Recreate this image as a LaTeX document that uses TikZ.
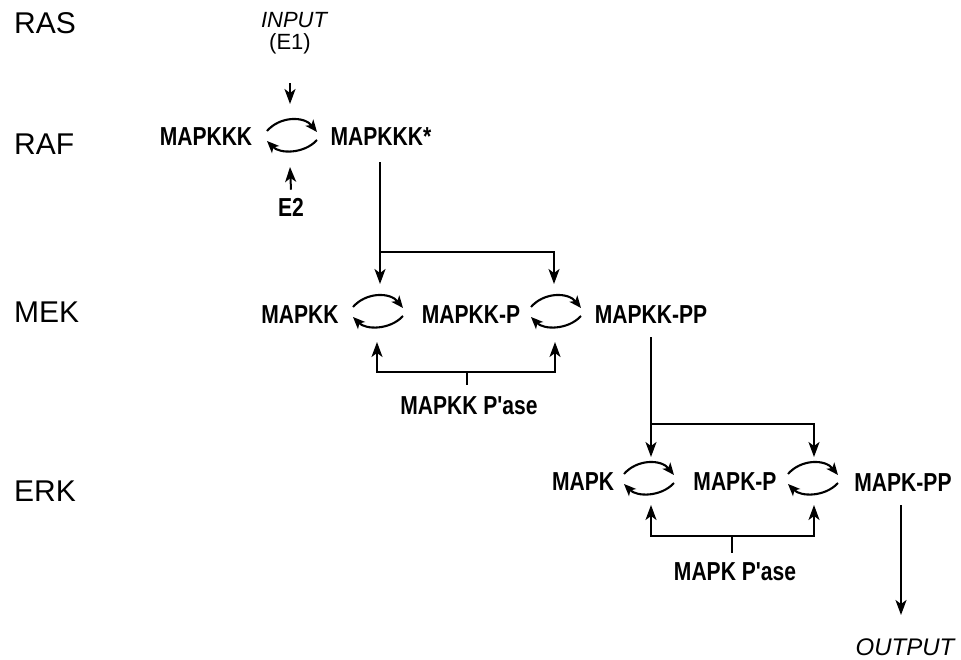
\documentclass[tikz,border=0pt]{standalone}
\usepackage{fontspec}
\setmainfont{Liberation Sans}
\newfontfamily\dfont{Liberation Sans}[FakeStretch=0.81]
\usetikzlibrary{arrows.meta}
\tikzset{
  lvl/.style={anchor=west,inner sep=0pt,font=\fontsize{30}{36}\selectfont},
  spec/.style={inner sep=0pt,font=\dfont\bfseries\fontsize{26}{30}\selectfont},
  ital/.style={inner sep=0pt,font=\itshape\fontsize{22}{26}\selectfont},
  plain/.style={inner sep=0pt,font=\fontsize{22}{26}\selectfont},
  wire/.style={line width=2pt},
  conn/.style={wire,-{Stealth[length=15pt,width=11pt,inset=4pt]}},
  cconn/.style={line width=2.1pt,-{Stealth[length=12pt,width=10pt,inset=3pt]}},
  cyc/.pic={
    \draw[cconn] (-25,-5) .. controls (-12,-20) and (12,-20) .. (25,-4);
    \draw[cconn] (25,4) .. controls (12,18) and (-12,18) .. (-25,5);
  }
}
\begin{document}
\begin{tikzpicture}[x=1pt,y=-1pt]
\useasboundingbox (0,0) rectangle (961,659);
% level labels
\node[lvl] (ras) at (14,23) {RAS};
\node[lvl] (raf) at (14,144) {RAF};
\node[lvl] (mek) at (14,312) {MEK};
\node[lvl] (erk) at (14,491) {ERK};
% top row
\node[ital] (inp) at (294,20) {INPUT};
\node[plain] (e1) at (290,44) {(E1)};
\node[spec] (mkkk) at (206,137) {MAPKKK};
\node[spec] (mkkks) at (381,137) {MAPKKK*};
\node[spec] (e2) at (291,207) {E2};
\coordinate (c1) at (292,136);
\pic at (c1) {cyc};
\coordinate (t1) at (290,104);
\coordinate (b1) at (290,167);
\draw[conn] ([yshift=-29pt]e1.south) -- (t1);
\draw[conn] ([yshift=8pt]e2.north) -- (b1);
% MEK row
\node[spec] (mkk) at (300,315) {MAPKK};
\node[spec] (mkkp) at (471,315) {MAPKK-P};
\node[spec] (mkkpp) at (651,315) {MAPKK-PP};
\node[spec] (pase2) at (469,406) {MAPKK P'ase};
\pic at (378,312) {cyc};
\pic at (556,312) {cyc};
\coordinate (j2) at (380,252);
\coordinate (d2a) at (380,284);
\coordinate (d2b) at (554,284);
\draw[wire] ([xshift=-1pt,yshift=-16pt]mkkks.south) -- (j2);
\draw[conn] (j2) -- (d2a);
\draw[conn] (j2) -| (d2b);
\coordinate (h2) at (467,372);
\coordinate (u2a) at (377,342);
\coordinate (u2b) at (555,342);
\draw[wire] ([xshift=-2pt,yshift=12pt]pase2.north) -- (h2);
\draw[conn] (h2) -| (u2a);
\draw[conn] (h2) -| (u2b);
% ERK row
\node[spec] (mk) at (583,482) {MAPK};
\node[spec] (mkp) at (735,482) {MAPK-P};
\node[spec] (mkpp) at (903,483) {MAPK-PP};
\node[spec] (pase3) at (735,572) {MAPK P'ase};
\pic at (649,479) {cyc};
\pic at (813,479) {cyc};
\coordinate (j3) at (651,424);
\coordinate (d3a) at (651,457);
\coordinate (d3b) at (814,457);
\draw[wire] ([yshift=-13pt]mkkpp.south) -- (j3);
\draw[conn] (j3) -- (d3a);
\draw[conn] (j3) -| (d3b);
\coordinate (h3) at (732,536);
\coordinate (u3a) at (651,505);
\coordinate (u3b) at (814,505);
\draw[wire] ([xshift=-3pt,yshift=10pt]pase3.north) -- (h3);
\draw[conn] (h3) -| (u3a);
\draw[conn] (h3) -| (u3b);
% output
\node[ital,font=\itshape\fontsize{24}{28}\selectfont] (out) at (905,647) {OUTPUT};
\coordinate (ot) at (901,615);
\draw[conn] ([xshift=-2pt,yshift=-13pt]mkpp.south) -- (ot);
\end{tikzpicture}
\end{document}
